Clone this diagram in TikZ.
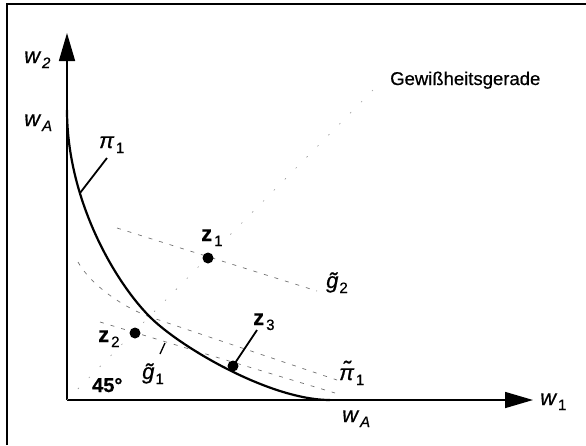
\documentclass[tikz,border=0pt]{standalone}
\usepackage{fontspec}
\setmainfont{Liberation Sans}[FakeBold=0.6]
\usetikzlibrary{arrows.meta}
\newcommand\sbx[1]{\raisebox{-5pt}{\fontsize{15}{16}\selectfont #1}}
\begin{document}
\begin{tikzpicture}[x=1pt,y=-1pt,
  axisline/.style={line width=1.6pt, -{Triangle[length=28pt,width=16pt]}},
  curveline/.style={line width=2.2pt},
  ptr/.style={line width=1.8pt},
  dsh/.style={line width=0.7pt, black!55, dash pattern=on 4pt off 7pt},
  cert/.style={line width=0.6pt, black!40, dash pattern=on 1.5pt off 14pt},
  frameline/.style={line width=1.4pt},
  lbl/.style={inner sep=0pt, anchor=base west, font=\fontsize{22}{25}\selectfont},
  dotnode/.style={circle, fill, inner sep=0pt, minimum size=11pt}]
\useasboundingbox (0,0) rectangle (586,445);
% frame
\coordinate (f1) at (7,445);
\coordinate (f2) at (7,4);
\coordinate (f3) at (586,4);
\draw[frameline] (f1) -- (f2) -- (f3);
% axes
\coordinate (O) at (67,400);
\coordinate (ytip) at (67,33);
\coordinate (xtip) at (533,400);
\draw[axisline] (O) -- (ytip);
\draw[axisline] (O) -- (xtip);
% certainty line
\coordinate (cEnd) at (375,88);
\draw[cert] (O) -- (cEnd);
% dashed lines
\coordinate (g2a) at (117,228);
\coordinate (g2b) at (317,291);
\draw[dsh] (g2a) -- (g2b);
\coordinate (g1a) at (100,322);
\coordinate (g1b) at (335,393);
\draw[dsh] (g1a) -- (g1b);
\coordinate (pta) at (78,262);
\coordinate (ptm) at (153,318);
\coordinate (ptb) at (337,380);
\draw[dsh] (pta) .. controls (90,284) and (123,308) .. (ptm) -- (ptb);
% main curve pi_1
\coordinate (pA) at (67,110);
\coordinate (pM) at (150,317);
\coordinate (pB) at (330,400);
\draw[curveline] (pA) .. controls (67,200) and (115,282) .. (pM)
  .. controls (180,347) and (270,400) .. (pB);
% points
\node[dotnode] (z1) at (208,258) {};
\node[dotnode] (z2) at (135,333) {};
\node[dotnode] (z3) at (233,366) {};
% pointers
\coordinate (pi1a) at (80,193);
\coordinate (pi1b) at (107,158);
\draw[ptr] (pi1a) -- (pi1b);
\coordinate (z3p) at (257,330);
\draw[ptr] (z3.center) -- (z3p);
\coordinate (g1pa) at (160,354);
\coordinate (g1pb) at (165,343);
\draw[line width=1.3pt] (g1pa) -- (g1pb);
% labels
\node[lbl] (lw2) at (24,63) {\itshape w\hspace{2pt}\sbx{2}};
\node[lbl] (lwAy) at (24,126) {\itshape w\hspace{2pt}\sbx{A}};
\node[lbl] (lpi1) at (99,148) {\itshape π\hspace{2pt}\sbx{\upshape 1}};
\node[lbl] (lz1) at (201,241) {\bfseries z\hspace{2pt}\sbx{\mdseries 1}};
\node[lbl] (lz2) at (98,342) {\bfseries z\hspace{2pt}\sbx{\mdseries 2}};
\node[lbl] (lz3) at (253,325) {\bfseries z\hspace{2pt}\sbx{\mdseries 3}};
\node[lbl] (lg2) at (326,288) {\itshape \~{g}\hspace{1pt}\sbx{\upshape 2}};
\node[lbl] (lg1) at (142,379) {\itshape \~{g}\hspace{1pt}\sbx{\upshape 1}};
\node[lbl] (lpit) at (339,380) {\itshape \~{π}\hspace{2pt}\sbx{\upshape 1}};
\node[lbl, font=\fontsize{20}{23}\selectfont] (l45) at (92,392) {\bfseries 45°};
\node[lbl] (lwAx) at (342,422) {\itshape w\hspace{2pt}\sbx{A}};
\node[lbl] (lw1) at (540,405) {\itshape w\hspace{2pt}\sbx{\upshape 1}};
\node[lbl, font=\fontsize{18.5}{21}\selectfont] (lgew) at (390,85) {Gewißheitsgerade};
\end{tikzpicture}
\end{document}
